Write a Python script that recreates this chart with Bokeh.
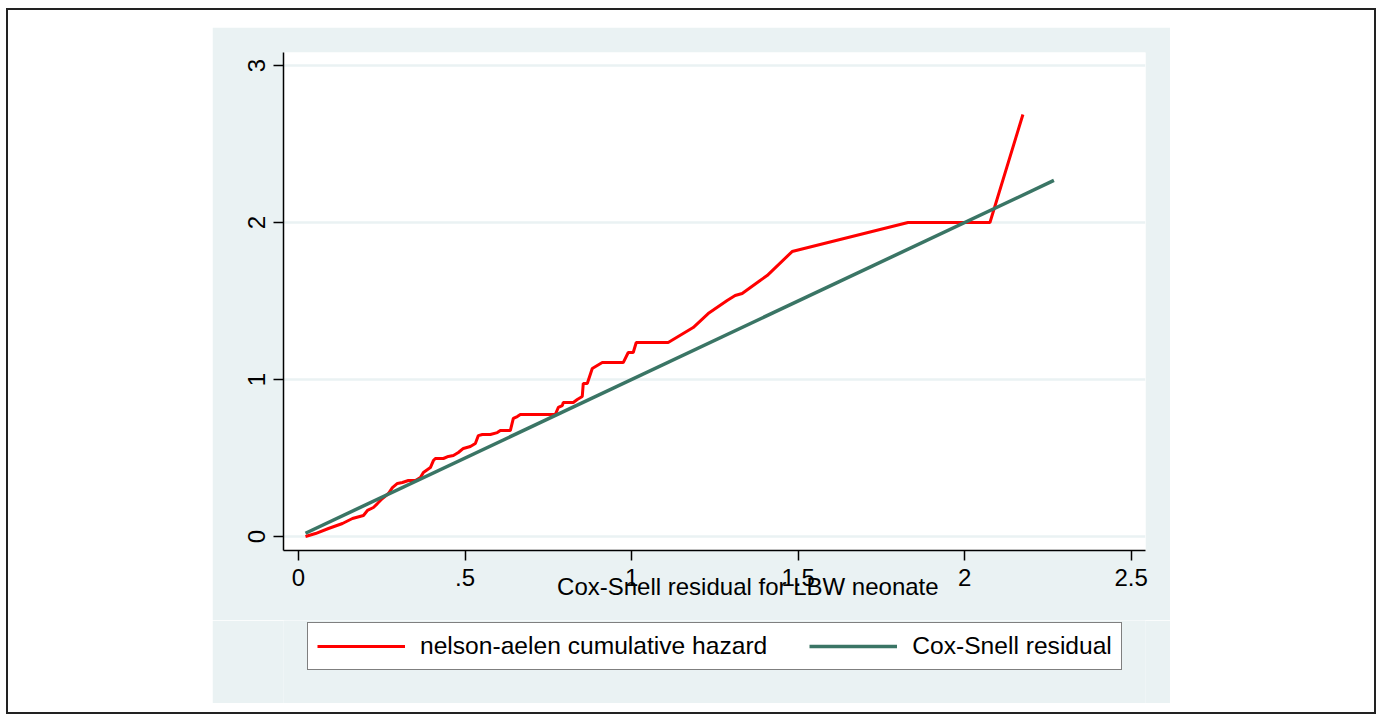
from bokeh.plotting import figure
from bokeh.models import Range1d, FixedTicker, Legend, LegendItem
from bokeh.layouts import column
from bokeh.embed import file_html
from bokeh.resources import INLINE

# Cox-Snell residual reference line (y = x)
cs_x = [0.021, 2.268]
cs_y = [0.021, 2.268]

# Nelson-Aalen cumulative hazard of the Cox-Snell residuals
na_x = [0.021, 0.051, 0.090, 0.132, 0.162, 0.195, 0.207, 0.225, 0.237, 0.252,
        0.270, 0.282, 0.297, 0.312, 0.330, 0.351, 0.366, 0.375, 0.396, 0.405,
        0.411, 0.435, 0.450, 0.465, 0.480, 0.495, 0.516, 0.531, 0.540, 0.552,
        0.576, 0.597, 0.606, 0.636, 0.645, 0.657, 0.666, 0.771, 0.780, 0.792,
        0.795, 0.825, 0.837, 0.852, 0.855, 0.867, 0.882, 0.912, 0.975, 0.990,
        1.005, 1.014, 1.110, 1.185, 1.230, 1.287, 1.311, 1.332, 1.386, 1.407,
        1.482, 1.830, 2.076, 2.175]
na_y = [0.000, 0.019, 0.051, 0.083, 0.115, 0.134, 0.166, 0.185, 0.210, 0.242,
        0.274, 0.312, 0.338, 0.344, 0.357, 0.357, 0.376, 0.408, 0.439, 0.484,
        0.497, 0.497, 0.510, 0.516, 0.535, 0.561, 0.573, 0.592, 0.643, 0.650,
        0.650, 0.662, 0.675, 0.675, 0.752, 0.764, 0.777, 0.777, 0.822, 0.834,
        0.854, 0.854, 0.873, 0.892, 0.975, 0.975, 1.070, 1.108, 1.108, 1.172,
        1.172, 1.236, 1.236, 1.331, 1.420, 1.503, 1.535, 1.548, 1.631, 1.662,
        1.815, 2.000, 2.000, 2.688]

x_ticks = [0, 0.5, 1, 1.5, 2, 2.5]
x_tick_labels = ["0", ".5", "1", "1.5", "2", "2.5"]
y_ticks = [0, 1, 2, 3]
y_tick_labels = ["0", "1", "2", "3"]

x_title = "Cox-Snell residual for LBW neonate"
label_na = "nelson-aelen cumulative hazard"
label_cs = "Cox-Snell residual"

FONT = "Liberation Sans"
PANEL = "#EAF2F3"
RED = "#FF0000"
TEAL = "#3A7565"

# ---- main chart (upper part of the light panel) ----
p = figure(width=958, height=593, output_backend="svg", toolbar_location=None,
           x_range=Range1d(-0.045, 2.543), y_range=Range1d(-0.089, 3.083),
           min_border_left=71, min_border_right=25, min_border_top=25,
           min_border_bottom=70)
p.border_fill_color = PANEL
p.background_fill_color = "white"
p.outline_line_color = None
p.margin = (17, 0, 0, 204)

p.xgrid.grid_line_color = None
p.ygrid.grid_line_color = PANEL
p.ygrid.grid_line_width = 2.5

for ax in (p.xaxis[0], p.yaxis[0]):
    ax.axis_line_color = "black"
    ax.axis_line_width = 1.5
    ax.major_tick_line_color = "black"
    ax.major_tick_line_width = 1.5
    ax.major_tick_out = 10
    ax.major_tick_in = 0
    ax.minor_tick_line_color = None
    ax.major_label_text_font = FONT
    ax.major_label_text_font_size = "24px"
    ax.major_label_text_color = "black"
    ax.axis_label_text_font = FONT
    ax.axis_label_text_font_size = "24px"
    ax.axis_label_text_font_style = "normal"
    ax.axis_label_text_color = "black"

p.xaxis.ticker = FixedTicker(ticks=x_ticks)
p.xaxis.major_label_overrides = {t: l for t, l in zip(x_ticks, x_tick_labels)}
p.xaxis.major_label_standoff = 8
# leading no-break spaces shift the centred title right, as in the reference
p.xaxis.axis_label = "\u00a0" * 10 + x_title
p.xaxis.axis_label_standoff = -16

p.yaxis.ticker = FixedTicker(ticks=y_ticks)
p.yaxis.major_label_overrides = {t: l for t, l in zip(y_ticks, y_tick_labels)}
p.yaxis.major_label_orientation = "vertical"
p.yaxis.major_label_standoff = 8

p.line(na_x, na_y, line_color=RED, line_width=3)
p.line(cs_x, cs_y, line_color=TEAL, line_width=3.5)

# ---- legend strip (lower part of the light panel) ----
# the series are drawn again here only as legend keys; the ranges keep them out of view
pl = figure(width=958, height=83, output_backend="svg", toolbar_location=None,
            x_range=Range1d(0, 1), y_range=Range1d(-10, -9),
            x_axis_type=None, y_axis_type=None,
            min_border_left=0, min_border_right=0, min_border_top=0,
            min_border_bottom=0)
pl.border_fill_color = PANEL
pl.background_fill_color = PANEL
pl.outline_line_color = None
pl.grid.grid_line_color = None
pl.margin = (0, 0, 0, 204)

k_na = pl.line(na_x, na_y, line_color=RED, line_width=3)
k_cs = pl.line(cs_x, cs_y, line_color=TEAL, line_width=3.5)

legend = Legend(items=[LegendItem(label=label_na, renderers=[k_na]),
                       LegendItem(label=label_cs, renderers=[k_cs])],
                orientation="horizontal", location=(24, 33))
legend.border_line_color = "black"
legend.border_line_width = 1.5
legend.background_fill_color = "white"
legend.background_fill_alpha = 1
legend.label_text_font = FONT
legend.label_text_font_size = "24.6px"
legend.label_text_color = "black"
legend.glyph_width = 88
legend.glyph_height = 22
legend.label_standoff = 15
legend.spacing = 42
legend.padding = 9
legend.margin = 0
pl.add_layout(legend)

outer = column(p, pl, width=1370, height=706, margin=(8, 0, 0, 6), spacing=0,
               styles={"border": "2px solid #222", "background-color": "white",
                       "box-sizing": "border-box"})

open("out.html", "w").write(file_html(outer, INLINE))
